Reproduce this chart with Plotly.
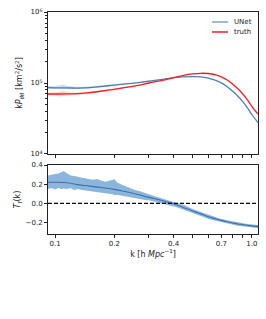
import plotly.graph_objects as go
import math

# ---------------- data ----------------
k_line = [0.092, 0.10, 0.115, 0.13, 0.15, 0.17, 0.20, 0.23, 0.26, 0.30, 0.35, 0.40, 0.45,
          0.50, 0.55, 0.60, 0.65, 0.70, 0.75, 0.80, 0.85, 0.90, 0.95, 1.00, 1.075]
truth = [7.0e4, 7.0e4, 7.02e4, 7.1e4, 7.3e4, 7.65e4, 8.15e4, 8.65e4, 9.2e4, 1.0e5, 1.09e5, 1.19e5, 1.28e5,
         1.34e5, 1.37e5, 1.36e5, 1.31e5, 1.22e5, 1.10e5, 9.6e4, 8.3e4, 7.0e4, 5.8e4, 4.7e4, 3.65e4]
unet = [8.6e4, 8.55e4, 8.53e4, 8.48e4, 8.61e4, 8.91e4, 9.34e4, 9.69e4, 1.007e5, 1.062e5, 1.123e5, 1.184e5, 1.222e5,
        1.233e5, 1.219e5, 1.17e5, 1.10e5, 1.003e5, 8.88e4, 7.63e4, 6.52e4, 5.45e4, 4.47e4, 3.6e4, 2.76e4]
tf = [0.22, 0.22, 0.215, 0.195, 0.18, 0.165, 0.146, 0.12, 0.095, 0.062, 0.03, -0.005, -0.045,
      -0.08, -0.11, -0.14, -0.16, -0.178, -0.193, -0.205, -0.215, -0.222, -0.23, -0.235, -0.243]

# scatter bands in the top panel (low k)
k_topband = [0.092, 0.100, 0.106, 0.110, 0.115, 0.125, 0.140, 0.160, 0.180, 0.200, 0.230, 0.260, 0.300]
unet_up = [9.1e4, 9.0e4, 9.3e4, 9.5e4, 9.1e4, 8.85e4, 8.85e4, 9.1e4, 9.35e4, 9.6e4, 9.85e4, 1.02e5, 1.07e5]
unet_lo = [8.25e4, 8.25e4, 8.05e4, 8.15e4, 8.15e4, 8.15e4, 8.25e4, 8.55e4, 8.85e4, 9.1e4, 9.5e4, 9.9e4, 1.05e5]
truth_up = [7.35e4, 7.35e4, 7.55e4, 7.75e4, 7.45e4, 7.3e4, 7.4e4, 7.6e4, 7.9e4, 8.4e4, 8.8e4, 9.3e4, 1.01e5]
truth_lo = [6.65e4, 6.65e4, 6.45e4, 6.55e4, 6.65e4, 6.8e4, 6.9e4, 7.2e4, 7.6e4, 7.95e4, 8.5e4, 9.1e4, 9.9e4]

# transfer-function band in the bottom panel
k_band = [0.092, 0.096, 0.100, 0.104, 0.108, 0.111, 0.115, 0.120, 0.125, 0.131, 0.137, 0.143, 0.150,
          0.157, 0.164, 0.172, 0.180, 0.188, 0.196, 0.201, 0.206, 0.212, 0.220, 0.230, 0.242, 0.255,
          0.270, 0.287, 0.305, 0.325, 0.350, 0.380, 0.415, 0.455, 0.500, 0.550, 0.610, 0.680, 0.760,
          0.850, 0.950, 1.075]
tf_up = [0.29, 0.30, 0.305, 0.31, 0.325, 0.337, 0.31, 0.29, 0.285, 0.275, 0.265, 0.26, 0.25,
         0.245, 0.255, 0.235, 0.225, 0.235, 0.24, 0.25, 0.22, 0.205, 0.19, 0.175, 0.155, 0.14,
         0.125, 0.105, 0.09, 0.07, 0.05, 0.03, 0.01, -0.02, -0.06, -0.09, -0.125, -0.155, -0.18,
         -0.20, -0.215, -0.225]
tf_lo = [0.15, 0.16, 0.145, 0.16, 0.15, 0.155, 0.15, 0.16, 0.14, 0.15, 0.14, 0.135, 0.13,
         0.125, 0.12, 0.115, 0.11, 0.10, 0.095, 0.085, 0.09, 0.085, 0.08, 0.07, 0.06, 0.055,
         0.045, 0.035, 0.03, 0.015, 0.0, -0.02, -0.04, -0.07, -0.10, -0.13, -0.165, -0.19, -0.215,
         -0.235, -0.245, -0.26]

series_names = ["UNet", "truth"]
x_ticks = [0.1, 0.2, 0.3, 0.4, 0.5, 0.6, 0.7, 0.8, 0.9, 1.0]
x_ticktext = ["0.1", "0.2", "", "0.4", "", "", "0.7", "", "", "1.0"]
y1_ticks = [1e4, 1e5, 1e6]
y1_ticktext = ["10<sup>4</sup>", "10<sup>5</sup>", "10<sup>6</sup>"]
y1_minor = [m * 10 ** e for e in (4, 5) for m in range(2, 10)]
y2_ticks = [-0.2, 0.0, 0.2, 0.4]
y2_ticktext = ["\u22120.2", "0.0", "0.2", "0.4"]

BLUE = "#4a7fb5"
RED = "#ff1a1a"
FONT = "DejaVu Sans"
INK = "#222"

fig = go.Figure()

# top panel bands
fig.add_trace(go.Scatter(x=k_topband, y=unet_up, mode="lines", line=dict(width=0),
                         showlegend=False, hoverinfo="skip", xaxis="x", yaxis="y"))
fig.add_trace(go.Scatter(x=k_topband, y=unet_lo, mode="lines", line=dict(width=0), fill="tonexty",
                         fillcolor="rgba(74,127,181,0.28)", showlegend=False, hoverinfo="skip",
                         xaxis="x", yaxis="y"))
fig.add_trace(go.Scatter(x=k_topband, y=truth_up, mode="lines", line=dict(width=0),
                         showlegend=False, hoverinfo="skip", xaxis="x", yaxis="y"))
fig.add_trace(go.Scatter(x=k_topband, y=truth_lo, mode="lines", line=dict(width=0), fill="tonexty",
                         fillcolor="rgba(255,60,60,0.22)", showlegend=False, hoverinfo="skip",
                         xaxis="x", yaxis="y"))

# top panel lines
fig.add_trace(go.Scatter(x=k_line, y=unet, mode="lines", name=series_names[0], showlegend=False,
                         line=dict(color=BLUE, width=1.3, shape="spline"), xaxis="x", yaxis="y"))
fig.add_trace(go.Scatter(x=k_line, y=truth, mode="lines", name=series_names[1], showlegend=False,
                         line=dict(color=RED, width=1.3, shape="spline"), xaxis="x", yaxis="y"))

# bottom panel band and line
fig.add_trace(go.Scatter(x=k_band, y=tf_up, mode="lines", line=dict(width=0),
                         showlegend=False, hoverinfo="skip", xaxis="x2", yaxis="y2"))
fig.add_trace(go.Scatter(x=k_band, y=tf_lo, mode="lines", line=dict(width=0), fill="tonexty",
                         fillcolor="rgba(90,150,205,0.7)", showlegend=False, hoverinfo="skip",
                         xaxis="x2", yaxis="y2"))
fig.add_trace(go.Scatter(x=k_line, y=tf, mode="lines", line=dict(color="#3d72a8", width=1.1, shape="spline"),
                         showlegend=False, xaxis="x2", yaxis="y2"))

fig.add_shape(type="line", xref="x2 domain", yref="y2", x0=0, x1=1, y0=0, y1=0,
              line=dict(color="black", width=1.1, dash="4px,2px"))

# compact legend (matplotlib style) inside the top panel
legend_colors = ["#7aa6d0", RED]
legend_y = [0.955, 0.91]
for name, col, ly in zip(series_names, legend_colors, legend_y):
    fig.add_shape(type="line", xref="paper", yref="paper", x0=0.781, x1=0.857, y0=ly, y1=ly,
                  line=dict(color=col, width=1.5))
    fig.add_annotation(xref="paper", yref="paper", x=0.878, y=ly, text=name, showarrow=False,
                       xanchor="left", yanchor="middle", font=dict(family=FONT, size=7, color=INK))

xr = [math.log10(0.0921), math.log10(1.075)]
axis_common = dict(showline=True, linecolor=INK, linewidth=1, mirror=True, ticks="outside",
                   ticklen=3, tickwidth=0.8, tickcolor=INK, showgrid=False, zeroline=False,
                   automargin=False, ticklabeloverflow="allow",
                   tickfont=dict(family=FONT, size=7, color=INK))

fig.update_layout(
    width=266, height=319,
    margin=dict(l=48, r=8, t=12, b=85, autoexpand=False),
    paper_bgcolor="white", plot_bgcolor="white",
    font=dict(family=FONT, size=7, color=INK),
    showlegend=False,
    xaxis=dict(type="log", range=xr, domain=[0, 1], anchor="y", tickvals=x_ticks,
               ticktext=[""] * len(x_ticks), **axis_common),
    yaxis=dict(type="log", range=[4, 6], domain=[0.3604, 1.0], anchor="x", tickvals=y1_ticks,
               ticktext=y1_ticktext,
               minor=dict(tickvals=y1_minor, ticks="outside", ticklen=2, tickcolor=INK),
               title=dict(text="k<i>P</i><sub><i>θθ</i></sub> [km<sup>2</sup>/s<sup>2</sup>]",
                          font=dict(family=FONT, size=8), standoff=6),
               **axis_common),
    xaxis2=dict(type="log", range=xr, domain=[0, 1], anchor="y2", tickvals=x_ticks,
                ticktext=x_ticktext,
                title=dict(text="k [h <i>Mpc</i><sup>\u22121</sup>]", font=dict(family=FONT, size=8),
                           standoff=2),
                **axis_common),
    yaxis2=dict(range=[-0.32, 0.4], domain=[0, 0.3108], anchor="x2", tickvals=y2_ticks,
                ticktext=y2_ticktext,
                title=dict(text="<i>T<sub>f</sub></i>(k)", font=dict(family=FONT, size=8), standoff=3),
                **axis_common),
)

# remove the browser's default page margin so the figure fills the window exactly
fig.write_html("out.html", config={"displayModeBar": False},
               post_script="document.body.style.margin='0';")
